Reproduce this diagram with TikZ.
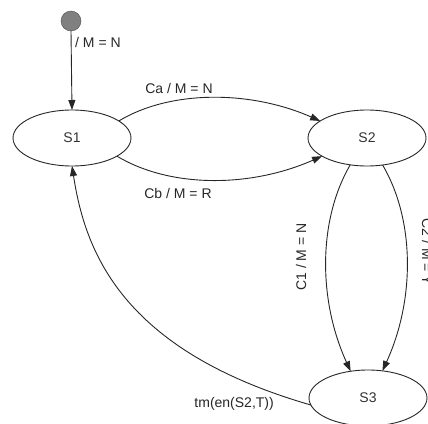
\documentclass[tikz,border=0pt]{standalone}
\usepackage{fontspec}
\setmainfont{Liberation Sans}
\usetikzlibrary{arrows.meta,shapes.geometric}
\begin{document}
\begin{tikzpicture}[x=1pt,y=-1pt,
  state/.style={draw=black!85,line width=0.9pt,ellipse,minimum width=118pt,minimum height=56pt,inner sep=0pt,outer sep=0pt,font=\fontsize{14}{16}\selectfont,text=black!80},
  lbl/.style={inner sep=0pt,font=\fontsize{14}{16}\selectfont,text=black!85},
  conn/.style={draw=black!85,line width=0.9pt,-{Triangle[length=10pt,width=7pt]}}]
\useasboundingbox (0,0) rectangle (428,423);
\node[circle,draw=black!70,fill=black!50,minimum size=20pt,inner sep=0pt,outer sep=0pt] (init) at (71,21) {};
\node[state] (S1) at (72,138) {S1};
\node[state] (S2) at (367,138) {S2};
\node[state] (S3) at (368,398) {S3};
\node[lbl,anchor=west] (l0) at (75,42) {/ M = N};
\node[lbl] (la) at (179,88) {Ca / M = N};
\node[lbl] (lb) at (178,193) {Cb / M = R};
\node[lbl,rotate=90] (lc1) at (301,257) {C1 / M = N};
\node[lbl,rotate=-90,anchor=base] (lc2) at (422,252) {C2 / M = Y};
\node[lbl,anchor=east] (lt) at (274,404) {tm(en(S2,T))};
\draw[conn] (init.south) -- (S1.north);
\draw[conn] (S1.20) .. controls (170,90) and (250,90) .. (S2.160);
\draw[conn] (S1.338) .. controls (170,188) and (250,188) .. (S2.202);
\draw[conn] (S2.238) .. controls (318,220) and (318,300) .. (S3.123);
\draw[conn] (S2.300) .. controls (415,220) and (415,300) .. (S3.62);
\draw[conn] (S3.187) .. controls (120,350) and (85,250) .. (S1.south);
\end{tikzpicture}
\end{document}
